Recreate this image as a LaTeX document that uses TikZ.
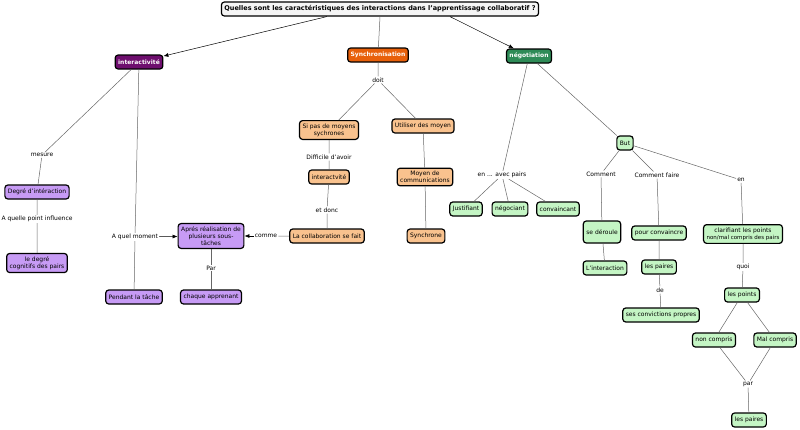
\documentclass[tikz,border=0pt]{standalone}
\usepackage{fontspec}
\setmainfont{DejaVu Sans}
\usetikzlibrary{positioning,arrows.meta}
\definecolor{purpdark}{HTML}{6E0E6E}
\definecolor{purplight}{HTML}{C79BF5}
\definecolor{orangedark}{HTML}{E8600A}
\definecolor{orangelight}{HTML}{F9C28E}
\definecolor{greendark}{HTML}{2E8B57}
\definecolor{greenlight}{HTML}{C4F5C4}
\tikzset{
  concept/.style={draw=black, line width=1.2pt, rounded corners=3pt, align=center,
    font=\fontsize{6}{7}\selectfont, inner sep=3pt, minimum height=14pt},
  headbox/.style={concept, text=white, font=\fontsize{6}{7}\selectfont\bfseries},
  purp/.style={concept, fill=purplight},
  oran/.style={concept, fill=orangelight},
  gren/.style={concept, fill=greenlight},
  lbl/.style={font=\fontsize{6}{7}\selectfont, inner sep=1pt},
  link/.style={draw=black!60, line width=0.5pt},
  linkto/.style={link, -{Latex[length=5pt,width=4pt]}, draw=black}
}
\begin{document}
\begin{tikzpicture}[x=1pt,y=-1pt]
 \useasboundingbox (0,0) rectangle (800,429);

    % question
    \node[concept, fill=black!4, font=\fontsize{6.5}{7.5}\selectfont\bfseries, minimum width=296pt] (quest) at (380,9)
      {Quelles sont les caractéristiques des interactions dans l'apprentissage collaboratif ?};

    % three branches
    \node[headbox, fill=purpdark] (inter) at (139,62) {interactivité};
    \node[headbox, fill=orangedark] (sync) at (378,55) {Synchronisation};
    \node[headbox, fill=greendark] (nego) at (529,56) {négotiation};
    \draw[linkto] (quest.south west) ++(106,0) -- (inter);
    \draw[link] (quest.south) -- (sync);
    \draw[linkto] (quest.south) ++(70,0) -- (nego);

    % interactivite
    \node[lbl] (mesure) at (42,155) {mesure};
    \node[purp] (degre) at (37,192) {Degré d'intéraction};
    \node[lbl] (influ) at (37,219) {A quelle point influence};
    \node[purp] (cogn) at (37,263) {le degré\\cognitifs des pairs};
    \node[lbl] (moment) at (135,237) {A quel moment};
    \node[purp] (pendant) at (134,297) {Pendant la tâche};
    \node[purp] (apres) at (211,236) {Aprés réalisation de\\plusieurs sous-\\tâches};
    \node[lbl] (par1) at (211,268) {Par};
    \node[purp] (chaque) at (211,297) {chaque apprenant};
    \draw[link] (inter) -- (mesure) -- (degre) -- (influ) -- (cogn);
    \draw[link] (inter) -- (moment) -- (pendant);
    \draw[linkto] (moment) -- (apres);
    \draw[link] (apres) -- (par1) -- (chaque);

    % synchronisation
    \node[lbl] (doit) at (378,80) {doit};
    \node[oran] (sipas) at (329,130) {Si pas de moyens\\sychrones};
    \node[oran] (utilis) at (423,126) {Utiliser des moyen};
    \node[lbl] (diffic) at (329,157) {Difficile d'avoir};
    \node[oran] (interv) at (329,177) {interactvité};
    \node[lbl] (donc) at (327,210) {et donc};
    \node[oran] (collab) at (327,236) {La collaboration se fait};
    \node[lbl] (comme) at (266,236) {comme};
    \node[oran] (moyen) at (425,177) {Moyen de\\communications};
    \node[oran] (synchr) at (426,236) {Synchrone};
    \draw[link] (sync) -- (doit) -- (sipas);
    \draw[link] (doit) -- (utilis) -- (moyen) -- (synchr);
    \draw[link] (sipas) -- (diffic) -- (interv) -- (donc) -- (collab) -- (comme);
    \draw[linkto] (comme) -- (apres);

    % negotiation
    \node[lbl] (avec) at (502,175) {en ... avec pairs};
    \node[gren] (justi) at (466,209) {Justifiant};
    \node[gren] (negoc) at (510,209) {négociant};
    \node[gren] (convc) at (558,209) {convaincant};
    \node[gren] (but) at (625,143) {But};
    \node[lbl] (comm) at (601,174) {Comment};
    \node[gren, minimum height=22pt] (deroul) at (602,232) {se déroule};
    \node[gren] (linter) at (605,268) {L'interaction};
    \node[lbl] (commf) at (657,175) {Comment faire};
    \node[gren] (pourc) at (659,233) {pour convaincre};
    \node[gren] (paires1) at (659,267) {les paires};
    \node[lbl] (de) at (660,290) {de};
    \node[gren] (convic) at (661,315) {ses convictions propres};
    \node[lbl] (en) at (741,180) {en};
    \node[gren] (clarif) at (743,234) {clarifiant les points\\{\fontsize{5.5}{6.5}\selectfont non/mal compris des pairs}};
    \node[lbl] (quoi) at (743,267) {quoi};
    \node[gren] (points) at (742,295) {les points};
    \node[gren] (noncp) at (714,340) {non compris};
    \node[gren] (malcp) at (775,340) {Mal compris};
    \node[lbl] (par2) at (748,384) {par};
    \node[gren] (paires2) at (749,420) {les paires};
    \draw[link] (nego) -- (avec);
    \draw[link] (avec) -- (justi);
    \draw[link] (avec) -- (negoc);
    \draw[link] (avec) -- (convc);
    \draw[link] (nego) -- (but);
    \draw[link] (but) -- (comm) -- (deroul) -- (linter);
    \draw[link] (but) -- (commf) -- (pourc) -- (paires1) -- (de) -- (convic);
    \draw[link] (but) -- (en) -- (clarif) -- (quoi) -- (points);
    \draw[link] (points) -- (noncp) -- (par2);
    \draw[link] (points) -- (malcp) -- (par2);
    \draw[link] (par2) -- (paires2);
\end{tikzpicture}
\end{document}
